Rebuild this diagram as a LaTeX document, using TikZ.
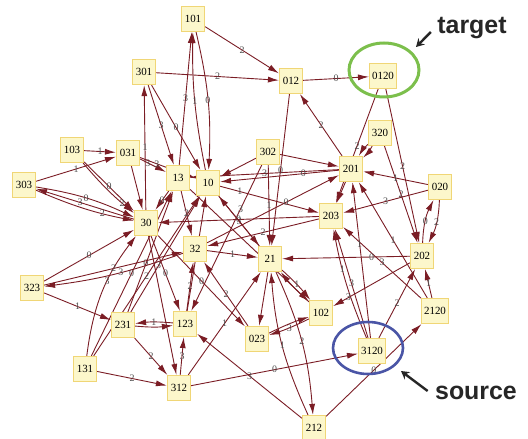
\documentclass[tikz,border=0pt]{standalone}
\usepackage{fontspec}
\setmainfont{Liberation Serif}
\newfontfamily\calloutfont{Liberation Sans}
\usetikzlibrary{arrows.meta}
\definecolor{edgered}{HTML}{7B1D25}
\definecolor{boxfill}{HTML}{FCF7CB}
\definecolor{boxline}{HTML}{F0D676}
\definecolor{labgray}{HTML}{505050}
\definecolor{targetgreen}{HTML}{7CBF4C}
\definecolor{sourceblue}{HTML}{4A55A6}
\pgfdeclarelayer{bg}
\pgfsetlayers{bg,main}
\tikzset{
	state/.style={draw=boxline, fill=boxfill, line width=1.2bp, minimum height=25bp, minimum width=23bp, inner xsep=2.5bp, font=\fontsize{11}{12}\selectfont},
	edge/.style={draw=edgered, line width=0.9bp, -{Latex[length=11bp,width=6bp]}},
	lab/.style={font=\fontsize{10}{10}\selectfont, text=labgray, inner sep=0pt},
	callout/.style={font=\calloutfont\bfseries\fontsize{25}{25}\selectfont, text=black!85},
	pointer/.style={line width=2.4bp, black!85, -{Stealth[length=8bp,width=9bp]}}
}

\begin{document}
\begin{tikzpicture}[x=1bp,y=-1bp]
		\useasboundingbox (0,0) rectangle (528,439);
		% states
		\node[state] (s101) at (193,19) {101};
		\node[state] (s301) at (144,72) {301};
		\node[state] (s012) at (291,81) {012};
		\node[state] (s0120) at (383,76) {0120};
		\node[state] (s103) at (72,150) {103};
		\node[state] (s031) at (128,153) {031};
		\node[state] (s303) at (24,185) {303};
		\node[state] (s13) at (178,178) {13};
		\node[state] (s10) at (208,183) {10};
		\node[state] (s302) at (268,152) {302};
		\node[state] (s320) at (380,133) {320};
		\node[state] (s201) at (351,169) {201};
		\node[state] (s020) at (440,187) {020};
		\node[state] (s203) at (331,216) {203};
		\node[state] (s30) at (146,223) {30};
		\node[state] (s32) at (195,249) {32};
		\node[state] (s21) at (270,259) {21};
		\node[state] (s202) at (422,256) {202};
		\node[state] (s323) at (32,288) {323};
		\node[state] (s102) at (321,313) {102};
		\node[state] (s2120) at (435,311) {2120};
		\node[state] (s231) at (123,325) {231};
		\node[state] (s123) at (185,324) {123};
		\node[state] (s023) at (257,339) {023};
		\node[state] (s3120) at (372,351) {3120};
		\node[state] (s131) at (85,369) {131};
		\node[state] (s312) at (179,388) {312};
		\node[state] (s212) at (314,428) {212};

		\begin{pgfonlayer}{bg}
		% top
		\draw[edge] (s101) -- node[lab]{2} (s012);
		\draw[edge] (s301) -- node[lab]{2} (s012);
		\draw[edge] (s012) -- node[lab]{0} (s0120);
		\draw[edge] (s101) to[bend left=8] node[lab]{0} (s10);
		\draw[edge] (s13) -- node[lab]{3} (s101);
		\draw[edge] (s10) to[bend left=6] node[lab]{1} (s101);
		\draw[edge] (s301) -- node[lab]{3} (s13);
		\draw[edge] (s301) -- node[lab]{0} (s10);
		\draw[edge] (s30) -- node[lab]{1} (s301);
		% left
		\draw[edge] (s103) -- node[lab]{1} (s031);
		\draw[edge] (s303) -- node[lab]{1} (s031);
		\draw[edge] (s103) -- node[lab]{0} (s30);
		\draw[edge] (s103) to[bend right=5] node[lab, pos=0.8]{2} (s30);
		\draw[edge] (s303) to[bend left=8] node[lab]{0} (s30);
		\draw[edge] (s30) -- node[lab, pos=0.55]{3} (s303);
		\draw[edge] (s303) to[bend right=6] node[lab, pos=0.7]{2} (s30);
		\draw[edge] (s031) -- node[lab, pos=0.3]{3} (s13);
		\draw[edge] (s031) -- node[lab, pos=0.3]{3} (s10);
		\draw[edge] (s031) -- (s30);
		\draw[edge] (s13) -- node[lab]{0} (s30);
		% middle
		\draw[edge] (s201) -- node[lab, pos=0.5]{3} (s13);
		\draw[edge] (s201) -- node[lab, pos=0.3]{0} (s10);
		\draw[edge] (s302) -- (s10);
		\draw[edge] (s10) -- node[lab, pos=0.2]{1} (s203);
		\draw[edge] (s012) -- node[lab]{0} (s21);
		\draw[edge] (s302) -- node[lab]{1} (s21);
		\draw[edge] (s302) -- (s201);
		\draw[edge] (s302) -- node[lab, pos=0.3]{3} (s123);
		\draw[edge] (s201) -- node[lab]{2} (s012);
		\draw[edge] (s0120) -- node[lab]{2} (s203);
		\draw[edge] (s0120) -- node[lab]{2} (s202);
		\draw[edge] (s320) to[bend left=8] (s201);
		\draw[edge] (s320) to[bend right=8] (s201);
		\draw[edge] (s320) -- node[lab]{2} (s202);
		\draw[edge] (s020) -- node[lab]{1} (s201);
		\draw[edge] (s020) -- node[lab]{3} (s203);
		\draw[edge] (s020) to[bend left=12] node[lab]{2} (s202);
		\draw[edge] (s202) to[bend left=12] node[lab]{0} (s020);
		\draw[edge] (s201) -- (s203);
		\draw[edge] (s2120) -- node[lab]{1} (s201);
		\draw[edge] (s2120) -- node[lab]{3} (s203);
		\draw[edge] (s2120) -- node[lab]{1} (s202);
		\draw[edge] (s3120) -- node[lab]{2} (s202);
		\draw[edge] (s3120) -- node[lab, pos=0.6]{1} (s201);
		\draw[edge] (s3120) to[bend left=6] node[lab, pos=0.65]{1} (s203);
		\draw[edge] (s3120) -- node[lab]{3} (s203);
		\draw[edge] (s202) -- node[lab, pos=0.3]{0} (s21);
		\draw[edge] (s202) -- node[lab, pos=0.8]{3} (s102);
		\draw[edge] (s21) to[bend left=4] node[lab]{1} (s102);
		\draw[edge] (s102) to[bend left=4] (s21);
		\draw[edge] (s102) to[bend left=4] node[lab]{3} (s023);
		\draw[edge] (s023) to[bend left=4] (s102);
		\draw[edge] (s21) -- (s023);
		\draw[edge] (s212) to[bend left=10] node[lab]{1} (s21);
		\draw[edge] (s21) to[bend left=10] node[lab]{2} (s212);
		% bottom
		\draw[edge] (s312) -- node[lab]{0} (s3120);
		\draw[edge] (s212) -- node[lab]{0} (s2120);
		\draw[edge] (s212) -- node[lab]{3} (s123);
		\draw[edge] (s312) -- node[lab]{1} (s21);
		\draw[edge] (s123) to[bend right=6] node[lab]{1} (s231);
		\draw[edge] (s231) to[bend right=6] (s123);
		\draw[edge] (s123) -- node[lab]{2} (s32);
		\draw[edge] (s023) -- node[lab]{2} (s32);
		\draw[edge] (s30) -- node[lab]{0} (s023);
		\draw[edge] (s30) -- node[lab]{0} (s123);
		\draw[edge] (s131) to[bend left=15] node[lab, pos=0.6]{3} (s30);
		\draw[edge] (s131) -- node[lab]{0} (s13);
		\draw[edge] (s131) -- node[lab]{2} (s10);
		\draw[edge] (s231) -- node[lab, pos=0.4]{0} (s13);
		\draw[edge] (s231) -- node[lab, pos=0.4]{3} (s10);
		\draw[edge] (s323) -- node[lab]{0} (s30);
		\draw[edge] (s323) -- node[lab]{2} (s32);
		\draw[edge] (s32) to[bend left=6] node[lab, pos=0.45]{3} (s323);
		\draw[edge] (s323) -- node[lab]{1} (s231);
		\draw[edge] (s231) -- node[lab]{2} (s312);
		\draw[edge] (s131) -- node[lab]{2} (s312);
		\draw[edge] (s312) -- node[lab]{3} (s123);
		\draw[edge] (s30) -- (s312);
		\draw[edge] (s123) -- (s10);
		\draw[edge] (s21) -- node[lab]{3} (s10);
		\draw[edge] (s203) -- node[lab]{0} (s30);
		\draw[edge] (s32) -- node[lab, pos=0.6]{0} (s201);
		\draw[edge] (s203) -- node[lab]{2} (s32);
		\draw[edge] (s13) -- node[lab]{2} (s32);
		\draw[edge] (s32) -- node[lab]{1} (s21);
		\draw[edge] (s13) -- (s102);
		\draw[edge] (s10) -- (s21);
		\end{pgfonlayer}

		% target and source
		\draw[targetgreen, line width=3bp] (384,70) ellipse [x radius=35bp, y radius=27bp];
		\draw[sourceblue, line width=2.6bp] (368,348) ellipse [x radius=35bp, y radius=26bp];
		\node[callout] (target) at (472,28) {target};
		\node[callout] (source) at (476,393) {source};
		\coordinate (tgtend) at (416,47);
		\coordinate (srcend) at (401,371);
		\draw[pointer] (target.west) ++(-3,4) -- (tgtend);
		\draw[pointer] (source.west) ++(-4,-2) -- (srcend);
	\end{tikzpicture}
\end{document}
